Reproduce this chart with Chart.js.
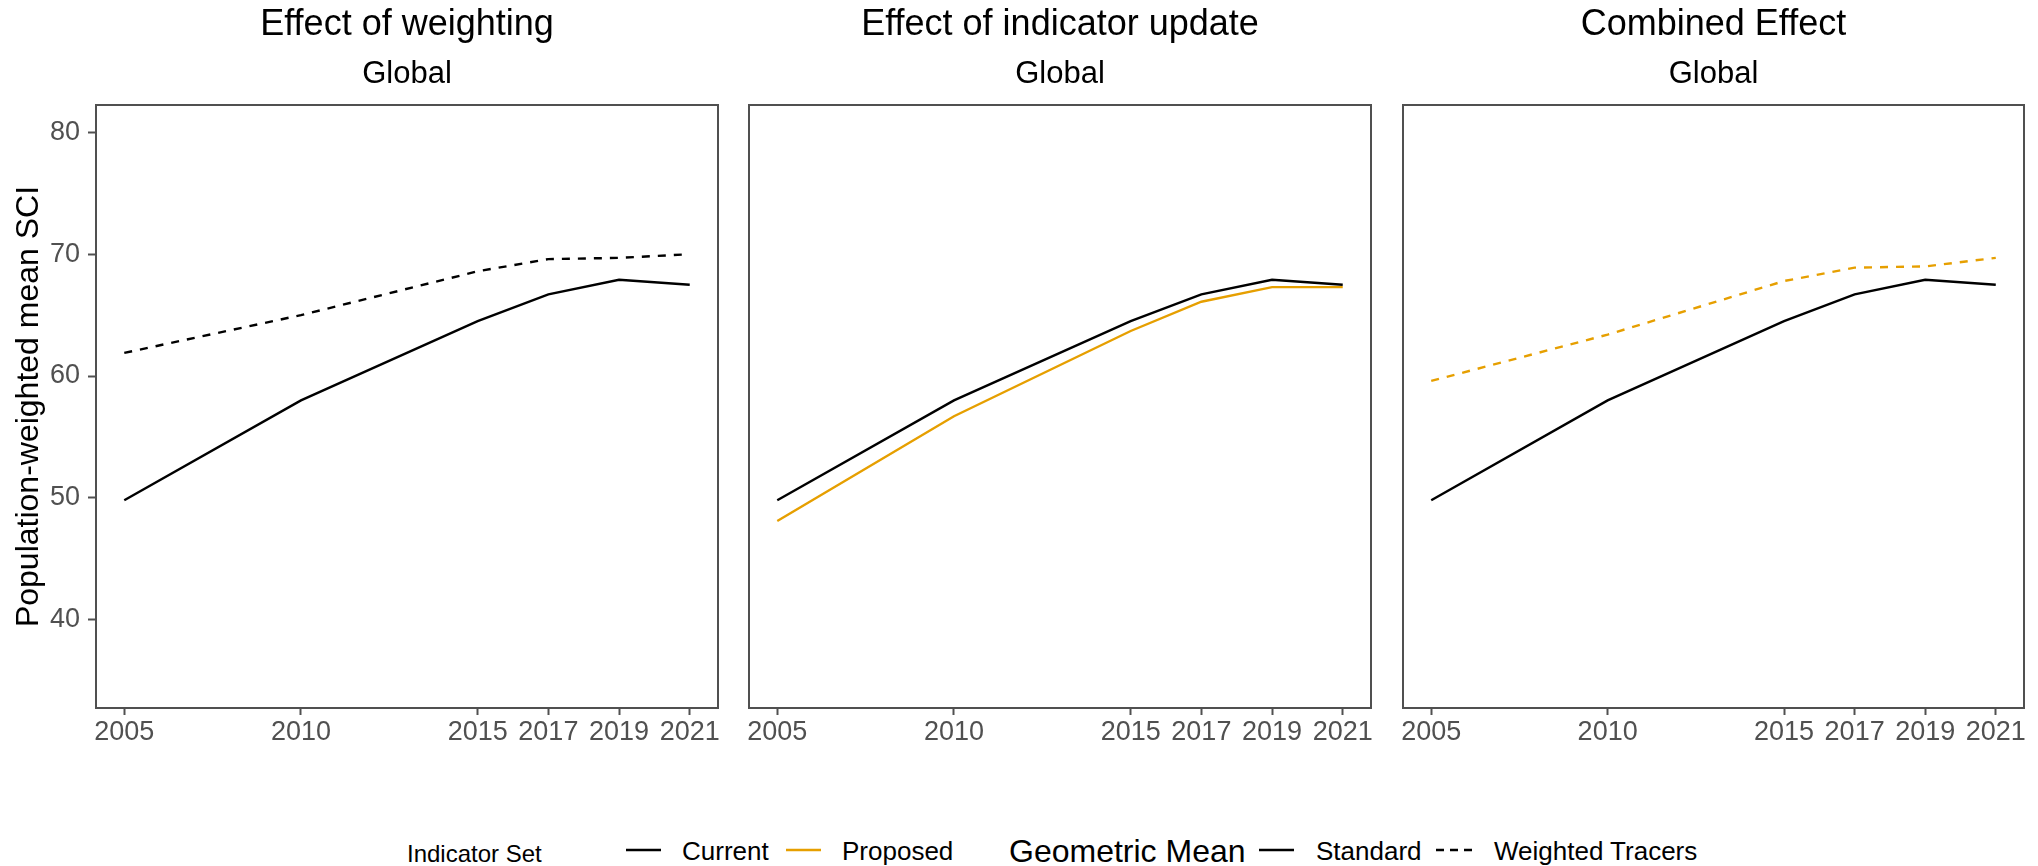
<!DOCTYPE html>
<html>
<head>
<meta charset="utf-8">
<title>Population-weighted mean SCI</title>
<script src="https://cdn.jsdelivr.net/npm/chart.js"></script>
<style>
  html, body { margin: 0; padding: 0; background: #fff; }
  #wrap { position: relative; width: 2038px; height: 866px; overflow: hidden;
          font-family: 'Liberation Sans', Arial, Helvetica, sans-serif; }
  #wrap canvas { position: absolute; top: 0; }
  .lg { position: absolute; white-space: nowrap; color: #000; line-height: 1; transform: translateY(-50%); }
  svg.key { position: absolute; }
</style>
</head>
<body>
<div id="wrap">
  <canvas id="p1" width="730" height="790" style="left:0px;width:730px;height:790px"></canvas>
  <canvas id="p2" width="646" height="790" style="left:737px;width:646px;height:790px"></canvas>
  <canvas id="p3" width="645" height="790" style="left:1391px;width:645px;height:790px"></canvas>

  <!-- legend -->
  <div class="lg" style="left:407px;top:854px;font-size:24px">Indicator Set</div>
  <svg class="key" style="left:624px;top:840px" width="40" height="20"><line x1="2" y1="10" x2="37" y2="10" stroke="#000" stroke-width="2.4"/></svg>
  <div class="lg" style="left:682px;top:851px;font-size:26px">Current</div>
  <svg class="key" style="left:784px;top:840px" width="40" height="20"><line x1="2" y1="10" x2="37" y2="10" stroke="#E69F00" stroke-width="2.4"/></svg>
  <div class="lg" style="left:842px;top:851px;font-size:26px">Proposed</div>
  <div class="lg" style="left:1009px;top:851px;font-size:32px">Geometric Mean</div>
  <svg class="key" style="left:1257px;top:840px" width="40" height="20"><line x1="2" y1="10" x2="37" y2="10" stroke="#000" stroke-width="2.4"/></svg>
  <div class="lg" style="left:1316px;top:851px;font-size:26px">Standard</div>
  <svg class="key" style="left:1434px;top:840px" width="46" height="20"><line x1="2" y1="10" x2="44" y2="10" stroke="#000" stroke-width="2.4" stroke-dasharray="8 6"/></svg>
  <div class="lg" style="left:1494px;top:851px;font-size:26px">Weighted Tracers</div>
</div>

<script>
// Survey years and population-weighted mean SCI per indicator set / mean type
const years = [2005, 2010, 2015, 2017, 2019, 2021];
const currentStandard  = [49.8, 58.0, 64.5, 66.7, 67.9, 67.5];
const currentWeighted  = [61.9, 65.0, 68.6, 69.6, 69.7, 70.0];
const proposedStandard = [48.1, 56.7, 63.7, 66.1, 67.3, 67.3];
const proposedWeighted = [59.6, 63.4, 67.8, 68.9, 69.0, 69.7];

// Axis ticks and labels
const xTicks = [2005, 2010, 2015, 2017, 2019, 2021];
const yTicks = [40, 50, 60, 70, 80];
const panelTitles = ['Effect of weighting', 'Effect of indicator update', 'Combined Effect'];
const stripLabel = 'Global';
const yAxisTitle = 'Population-weighted mean SCI';

const FAMILY = "'Liberation Sans', Arial, Helvetica, sans-serif";
const BLACK = '#000000';
const ORANGE = '#E69F00';
const AXIS_GREY = '#505050';
const DASH = [8, 8];

// Draws the full box around each panel
const panelFrame = {
  id: 'panelFrame',
  afterDatasetsDraw(chart) {
    const { ctx, chartArea: a } = chart;
    ctx.save();
    ctx.strokeStyle = AXIS_GREY;
    ctx.lineWidth = 2;
    ctx.strokeRect(a.left, a.top, a.right - a.left, a.bottom - a.top);
    ctx.restore();
  }
};

function series(label, values, color, dash) {
  return {
    label,
    data: years.map((yr, i) => ({ x: yr, y: values[i] })),
    borderColor: color,
    backgroundColor: color,
    borderWidth: 2.4,
    borderDash: dash || [],
    pointRadius: 0,
    pointHoverRadius: 0,
    tension: 0,
    fill: false
  };
}

function makePanel(id, title, datasets, showY, padLeft, padRight) {
  return new Chart(document.getElementById(id), {
    type: 'line',
    data: { datasets },
    options: {
      responsive: false,
      animation: false,
      devicePixelRatio: 1,
      layout: { padding: { left: padLeft, right: padRight, top: 0, bottom: 0 } },
      plugins: {
        legend: { display: false },
        tooltip: { enabled: false },
        title: {
          display: true, text: title, fullSize: false, color: BLACK,
          font: { family: FAMILY, size: 36, weight: 'normal', lineHeight: '44px' },
          padding: { top: 3, bottom: 0 }
        },
        subtitle: {
          display: true, text: stripLabel, fullSize: false, color: BLACK,
          font: { family: FAMILY, size: 31, weight: 'normal', lineHeight: '36px' },
          padding: { top: 9, bottom: 13 }
        }
      },
      scales: {
        x: {
          type: 'linear',
          min: 2004.2, max: 2021.8,
          afterBuildTicks: sc => { sc.ticks = xTicks.map(v => ({ value: v })); },
          afterFit: sc => { sc.height = 82; },
          border: { display: false },
          grid: { drawOnChartArea: false, drawTicks: true, tickLength: 7, tickWidth: 2, tickColor: AXIS_GREY },
          ticks: {
            autoSkip: false, maxRotation: 0, minRotation: 0, padding: 1,
            color: AXIS_GREY, font: { family: FAMILY, size: 27 },
            callback: v => String(v)
          }
        },
        y: {
          display: showY,
          min: 32.75, max: 82.25,
          afterBuildTicks: sc => { sc.ticks = yTicks.map(v => ({ value: v })); },
          afterFit: sc => { sc.width = showY ? 96 : 0; },
          border: { display: false },
          grid: { drawOnChartArea: false, drawTicks: true, tickLength: 8, tickWidth: 2, tickColor: AXIS_GREY },
          ticks: {
            padding: 8, color: AXIS_GREY, font: { family: FAMILY, size: 27 },
            callback: v => String(v)
          },
          title: {
            display: true, text: yAxisTitle, color: BLACK,
            font: { family: FAMILY, size: 32 },
            padding: { top: 10, bottom: 0 }
          }
        }
      }
    },
    plugins: [panelFrame]
  });
}

makePanel('p1', panelTitles[0], [
  series('Current · Standard', currentStandard, BLACK),
  series('Current · Weighted Tracers', currentWeighted, BLACK, DASH)
], true, 0, 12);

makePanel('p2', panelTitles[1], [
  series('Current · Standard', currentStandard, BLACK),
  series('Proposed · Standard', proposedStandard, ORANGE)
], false, 12, 12);

makePanel('p3', panelTitles[2], [
  series('Current · Standard', currentStandard, BLACK),
  series('Proposed · Weighted Tracers', proposedWeighted, ORANGE, DASH)
], false, 12, 12);
</script>
</body>
</html>
